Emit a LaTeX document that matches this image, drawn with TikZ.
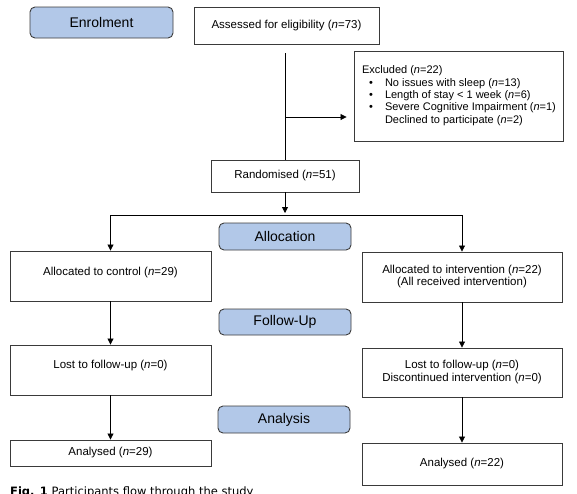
\documentclass[tikz,border=0pt]{standalone}
\usepackage{fontspec}
\setmainfont{Liberation Sans}
\newfontfamily\capfont{DejaVu Sans}
\usetikzlibrary{arrows.meta}
\definecolor{boxline}{HTML}{3A3A3A}
\definecolor{stagefill}{HTML}{B2C8E8}
\definecolor{stageline}{HTML}{3C3C3C}
\newcommand{\bodyfs}{\fontsize{11.5}{13}\selectfont}
\newcommand{\exclfs}{\fontsize{11}{12.3}\selectfont}
\newcommand{\stagefs}{\fontsize{14}{16}\selectfont}
\newcommand{\nn}{\textit{n}}
\newcommand{\bitem}{\makebox[23pt][l]{\hspace{7pt}\textbullet}}
\tikzset{
  box/.style={draw=boxline, line width=0.9pt, fill=white, inner sep=0pt, align=center, font=\bodyfs},
  stage/.style={draw=stageline, fill=stagefill, rounded corners=5pt, line width=0.9pt, inner sep=0pt, font=\stagefs},
  arr/.style={-{Triangle[width=6pt,length=6pt]}, line width=0.8pt},
  conn/.style={line width=0.8pt},
}
\begin{document}
\begin{tikzpicture}[x=1pt,y=1pt]
\useasboundingbox (0,0) rectangle (577,-493);
% stage labels
\node[stage, minimum width=143pt, minimum height=31pt] (enrol) at (101.5,-22.5) {Enrolment};
\node[stage, minimum width=132pt, minimum height=27pt] (alloc) at (285,-236.5) {Allocation};
\node[stage, minimum width=132pt, minimum height=26pt] (follow) at (285,-322) {Follow-Up};
\node[stage, minimum width=132pt, minimum height=27pt] (analysis) at (284,-419.5) {Analysis};
% boxes
\node[box, minimum width=185pt, minimum height=37pt] (assess) at (286.5,-25.5) {Assessed for eligibility (\nn=73)};
\node[box, minimum width=209pt, minimum height=90pt] (excl) at (458.5,-96) {\makebox[193pt][l]{\raisebox{5pt}{\exclfs\begin{tabular}{@{}l@{}}
Excluded (\nn=22)\\
\bitem No issues with sleep (\nn=13)\\
\bitem Length of stay < 1 week (\nn=6)\\
\bitem Severe Cognitive Impairment (\nn=1)\\
\hspace*{23pt}Declined to participate (\nn=2)\end{tabular}}}};
\node[box, minimum width=148pt, minimum height=32pt] (rand) at (285,-176) {Randomised (\nn=51)};
\node[box, minimum width=201pt, minimum height=50pt] (ctrl) at (110.5,-276) {\raisebox{10pt}{Allocated to control (\nn=29)}};
\node[box, minimum width=200pt, minimum height=50pt] (intv) at (462,-277) {\raisebox{5pt}{\begin{tabular}{@{}c@{}}Allocated to intervention (\nn=22)\\[-0.5pt](All received intervention)\end{tabular}}};
\node[box, minimum width=201pt, minimum height=50pt] (lostc) at (110.5,-370) {\raisebox{11pt}{Lost to follow-up (\nn=0)}};
\node[box, minimum width=200pt, minimum height=49pt] (losti) at (462,-372.5) {\raisebox{6pt}{\begin{tabular}{@{}c@{}}Lost to follow-up (\nn=0)\\[-0.5pt]Discontinued intervention (\nn=0)\end{tabular}}};
\node[box, minimum width=201pt, minimum height=26pt] (anac) at (110.5,-453) {Analysed (\nn=29)};
\node[box, minimum width=200pt, minimum height=42pt] (anai) at (462,-464) {\raisebox{4pt}{Analysed (\nn=22)}};
% caption (clipped by the page edge, as in the reference)
\node[anchor=base west, inner sep=0pt, font=\capfont\fontsize{11.5}{13}\selectfont] (cap) at (10,-495.5) {\textbf{Fig. 1} Participants flow through the study};
% connectors
\coordinate (vtop) at (285,-53);
\coordinate (br) at (285,-117);
\coordinate (split) at (285,-215);
\draw[conn] (vtop) -- (rand.north);
\draw[arr, shorten >=7pt] (br) -- (excl.west |- br);
\draw[arr, shorten >=2pt] (rand.south) -- (split);
\draw[conn] (ctrl.north |- split) -- (intv.north |- split);
\draw[arr] (ctrl.north |- split) -- (ctrl.north);
\draw[arr] (intv.north |- split) -- (intv.north);
\draw[arr] (ctrl.south) -- (lostc.north);
\draw[arr] (intv.south) -- (losti.north);
\draw[arr] (lostc.south) -- (anac.north);
\draw[arr] (losti.south) -- (anai.north);
\end{tikzpicture}
\end{document}
